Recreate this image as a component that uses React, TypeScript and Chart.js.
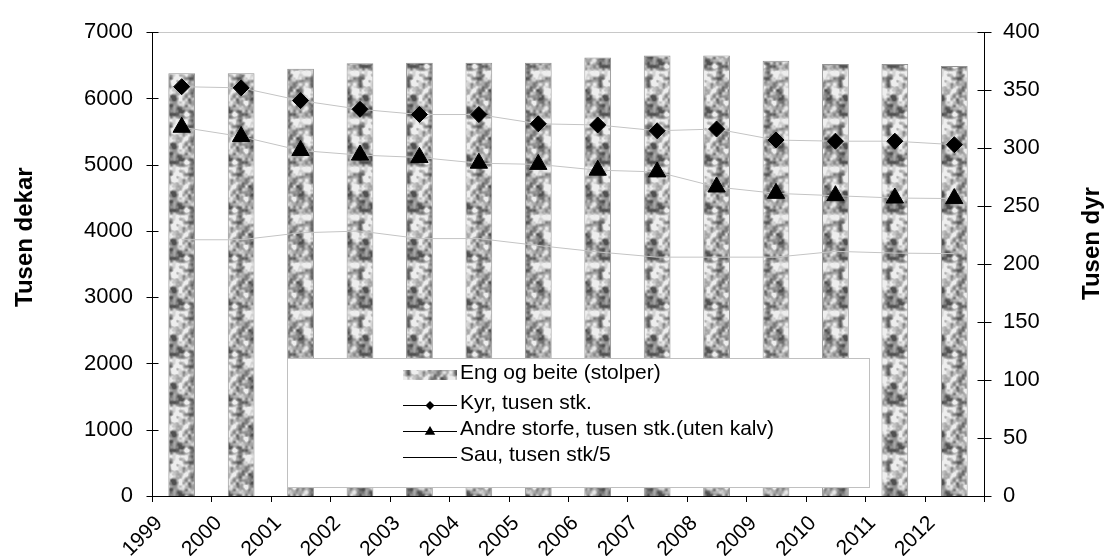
import React, { useEffect, useRef } from "react";
import { Chart, registerables } from "chart.js";

Chart.register(...registerables);

// ---- data ----
const years = ["1999", "2000", "2001", "2002", "2003", "2004", "2005", "2006", "2007", "2008", "2009", "2010", "2011", "2012"];
const engOgBeite = [6380, 6380, 6450, 6530, 6540, 6540, 6540, 6620, 6650, 6650, 6570, 6520, 6520, 6490];
const kyr = [353, 352, 341, 333.5, 329, 329, 321, 320, 315, 316.5, 307, 306, 306, 303];
const andreStorfe = [318, 310, 298, 294, 292, 287, 286, 281, 279.5, 266.5, 261, 259, 257, 256.5];
const sau = [221, 221, 227, 228.5, 222, 222, 216, 210.5, 206, 206, 206, 211, 209.5, 209];
const seriesLabels = [
  "Eng og beite (stolper)",
  "Kyr, tusen stk.",
  "Andre storfe, tusen stk.(uten kalv)",
  "Sau, tusen stk/5",
];
const axisTitles = ["Tusen dekar", "Tusen dyr"];
const leftAxis = { min: 0, max: 7000, step: 1000 };
const rightAxis = { min: 0, max: 400, step: 50 };

const FONT = "'Liberation Sans', Arial, sans-serif";

// deterministic hash for the fill texture (style only)
function hash(ix: number, iy: number): number {
  const s = Math.sin(ix * 127.1 + iy * 311.7) * 43758.5453;
  return s - Math.floor(s);
}
function vnoise(x: number, y: number, cell: number, period: number, seed: number): number {
  const gx = x / cell, gy = y / cell;
  const ix = Math.floor(gx), iy = Math.floor(gy);
  let fx = gx - ix, fy = gy - iy;
  fx = fx * fx * (3 - 2 * fx);
  fy = fy * fy * (3 - 2 * fy);
  const m = (v: number) => ((v % period) + period) % period;
  const a = hash(m(ix) + seed, m(iy) + seed * 3);
  const b = hash(m(ix + 1) + seed, m(iy) + seed * 3);
  const c = hash(m(ix) + seed, m(iy + 1) + seed * 3);
  const d = hash(m(ix + 1) + seed, m(iy + 1) + seed * 3);
  return a + (b - a) * fx + (c - a) * fy + (a - b - c + d) * fx * fy;
}

function makeTexture(ctx: CanvasRenderingContext2D): CanvasPattern | string {
  const size = 48;
  const c = document.createElement("canvas");
  c.width = size;
  c.height = size;
  const g = c.getContext("2d");
  if (!g) return "#ababab";
  const img = g.createImageData(size, size);
  for (let y = 0; y < size; y++) {
    for (let x = 0; x < size; x++) {
      const v =
        0.55 * vnoise(x, y, 6, size / 6, 11) +
        0.35 * vnoise(x, y, 3, size / 3, 37) +
        0.1 * vnoise(x, y, 2, size / 2, 73);
      let gv = 166 + (v - 0.5) * 320;
      gv = Math.max(80, Math.min(238, gv));
      const i = (y * size + x) * 4;
      img.data[i] = gv;
      img.data[i + 1] = gv;
      img.data[i + 2] = gv;
      img.data[i + 3] = 255;
    }
  }
  g.putImageData(img, 0, 0);
  return ctx.createPattern(c, "repeat") || "#ababab";
}

export default function App() {
  const ref = useRef<HTMLCanvasElement | null>(null);

  useEffect(() => {
    const canvas = ref.current;
    if (!canvas) return;
    const ctx0 = canvas.getContext("2d") as CanvasRenderingContext2D;
    const pattern = makeTexture(ctx0);

    const decor = {
      id: "decor",
      afterDatasetsDraw(chart: any) {
        const { ctx, chartArea, scales } = chart;
        const { left, right, top, bottom } = chartArea;
        ctx.save();
        ctx.strokeStyle = "#c8c8c8";
        ctx.lineWidth = 1;
        ctx.beginPath();
        ctx.moveTo(left, Math.round(top) + 0.5);
        ctx.lineTo(right, Math.round(top) + 0.5);
        ctx.stroke();

        ctx.strokeStyle = "#000";
        ctx.beginPath();
        const lx = Math.round(left) + 0.5;
        const rx = Math.round(right) + 0.5;
        const by = Math.round(bottom) + 0.5;
        ctx.moveTo(lx, top);
        ctx.lineTo(lx, bottom);
        ctx.moveTo(rx, top);
        ctx.lineTo(rx, bottom + 6);
        ctx.moveTo(left, by);
        ctx.lineTo(right, by);
        for (let v = leftAxis.min; v <= leftAxis.max; v += leftAxis.step) {
          const y = Math.round(scales.y.getPixelForValue(v)) + 0.5;
          ctx.moveTo(lx - 6, y);
          ctx.lineTo(lx + 6, y);
        }
        for (let v = rightAxis.min; v <= rightAxis.max; v += rightAxis.step) {
          const y = Math.round(scales.y1.getPixelForValue(v)) + 0.5;
          ctx.moveTo(rx - 7, y);
          ctx.lineTo(rx + 7, y);
        }
        const n = years.length;
        const half = (scales.x.getPixelForValue(1) - scales.x.getPixelForValue(0)) / 2;
        for (let i = 0; i <= n; i++) {
          const x = Math.round(scales.x.getPixelForValue(i) - half) + 0.5;
          ctx.moveTo(x, bottom);
          ctx.lineTo(x, bottom + 6);
        }
        ctx.stroke();

        // legend box
        const bx = 287, byy = 358, bw = 582, bh = 129;
        ctx.fillStyle = "#fff";
        ctx.fillRect(bx, byy, bw, bh);
        ctx.strokeStyle = "#c0c0c0";
        ctx.strokeRect(bx + 0.5, byy + 0.5, bw, bh);

        const ds = chart.data.datasets;
        const textY = [373.5, 403.3, 429.7, 455.5];
        const symX0 = 403, symX1 = 457, textX = 460;
        ctx.font = `21px ${FONT}`;
        ctx.textBaseline = "middle";
        ctx.textAlign = "left";
        for (let i = 0; i < ds.length; i++) {
          const ty = textY[i];
          const sy = ty + 1.5;
          if (i === 0) {
            ctx.fillStyle = pattern as any;
            ctx.fillRect(symX0, Math.round(sy) - 5, symX1 - symX0, 10);
          } else {
            ctx.strokeStyle = "#000";
            ctx.lineWidth = 1;
            ctx.beginPath();
            ctx.moveTo(symX0, Math.round(sy) + 0.5);
            ctx.lineTo(symX1, Math.round(sy) + 0.5);
            ctx.stroke();
            const cx = (symX0 + symX1) / 2;
            const cy = Math.round(sy) + 0.5;
            ctx.fillStyle = "#000";
            if (i === 1) {
              const r = 4.5;
              ctx.beginPath();
              ctx.moveTo(cx - r, cy);
              ctx.lineTo(cx, cy - r);
              ctx.lineTo(cx + r, cy);
              ctx.lineTo(cx, cy + r);
              ctx.closePath();
              ctx.fill();
            } else if (i === 2) {
              const r = 5.5;
              ctx.beginPath();
              ctx.moveTo(cx, cy - r);
              ctx.lineTo(cx + r * 0.95, cy + r * 0.6);
              ctx.lineTo(cx - r * 0.95, cy + r * 0.6);
              ctx.closePath();
              ctx.fill();
            }
          }
          ctx.fillStyle = "#000";
          ctx.fillText(ds[i].label, textX, ty);
        }
        ctx.restore();
      },
      afterDraw(chart: any) {
        const { ctx } = chart;
        ctx.save();
        ctx.fillStyle = "#000";
        ctx.font = `bold 24px ${FONT}`;
        ctx.textAlign = "left";
        ctx.textBaseline = "alphabetic";
        ctx.translate(31.5, 307);
        ctx.rotate(-Math.PI / 2);
        ctx.fillText(axisTitles[0], 0, 0);
        ctx.restore();
        ctx.save();
        ctx.fillStyle = "#000";
        ctx.font = `bold 24px ${FONT}`;
        ctx.textAlign = "left";
        ctx.textBaseline = "alphabetic";
        ctx.translate(1099, 300);
        ctx.rotate(-Math.PI / 2);
        ctx.fillText(axisTitles[1], 0, 0);
        ctx.restore();
      },
    };

    const tickFont = { family: FONT, size: 22 };
    const plain = (v: any) => String(v);

    const chart = new Chart(canvas, {
      type: "bar",
      data: {
        labels: years,
        datasets: [
          {
            type: "bar",
            label: seriesLabels[0],
            data: engOgBeite,
            yAxisID: "y",
            backgroundColor: pattern as any,
            borderColor: "#949494",
            borderWidth: 1,
            barPercentage: 0.45,
            categoryPercentage: 1,
            order: 2,
          },
          {
            type: "line",
            label: seriesLabels[1],
            data: kyr,
            yAxisID: "y1",
            borderColor: "#c4c4c4",
            borderWidth: 1,
            pointStyle: "rectRot",
            pointRadius: 8,
            pointBackgroundColor: "#000",
            pointBorderColor: "#000",
            pointBorderWidth: 1,
            order: 1,
          },
          {
            type: "line",
            label: seriesLabels[2],
            data: andreStorfe,
            yAxisID: "y1",
            borderColor: "#c4c4c4",
            borderWidth: 1,
            pointStyle: "triangle",
            pointRadius: 10,
            pointBackgroundColor: "#000",
            pointBorderColor: "#000",
            pointBorderWidth: 1,
            order: 1,
          },
          {
            type: "line",
            label: seriesLabels[3],
            data: sau,
            yAxisID: "y1",
            borderColor: "#c4c4c4",
            borderWidth: 1,
            pointRadius: 0,
            order: 1,
          },
        ] as any,
      },
      options: {
        animation: false,
        responsive: false,
        events: [],
        layout: { padding: { top: 25, left: 0, right: 0, bottom: 0 } },
        plugins: { legend: { display: false }, tooltip: { enabled: false } },
        scales: {
          x: {
            offset: true,
            grid: { display: false, drawTicks: false },
            border: { display: false },
            ticks: {
              autoSkip: false,
              maxRotation: 45,
              minRotation: 45,
              labelOffset: -22.5,
              padding: 15,
              color: "#000",
              font: { family: FONT, size: 21 },
            },
            afterFit: (s: any) => {
              s.height = 60;
            },
          },
          y: {
            position: "left",
            min: leftAxis.min,
            max: leftAxis.max,
            grid: { display: false, drawTicks: false },
            border: { display: false },
            ticks: { stepSize: leftAxis.step, padding: 19, color: "#000", font: tickFont, callback: plain },
            afterFit: (s: any) => {
              s.width = 152;
            },
          },
          y1: {
            position: "right",
            min: rightAxis.min,
            max: rightAxis.max,
            grid: { display: false, drawTicks: false },
            border: { display: false },
            ticks: { stepSize: rightAxis.step, padding: 19, color: "#000", font: tickFont, callback: plain },
            afterFit: (s: any) => {
              s.width = 122;
            },
          },
        },
      } as any,
      plugins: [decor],
    });

    return () => chart.destroy();
  }, []);

  return (
    <div style={{ position: "fixed", left: 0, top: 0, width: 1106, height: 556, background: "#fff" }}>
      <canvas ref={ref} width={1106} height={556} style={{ display: "block" }} />
    </div>
  );
}
